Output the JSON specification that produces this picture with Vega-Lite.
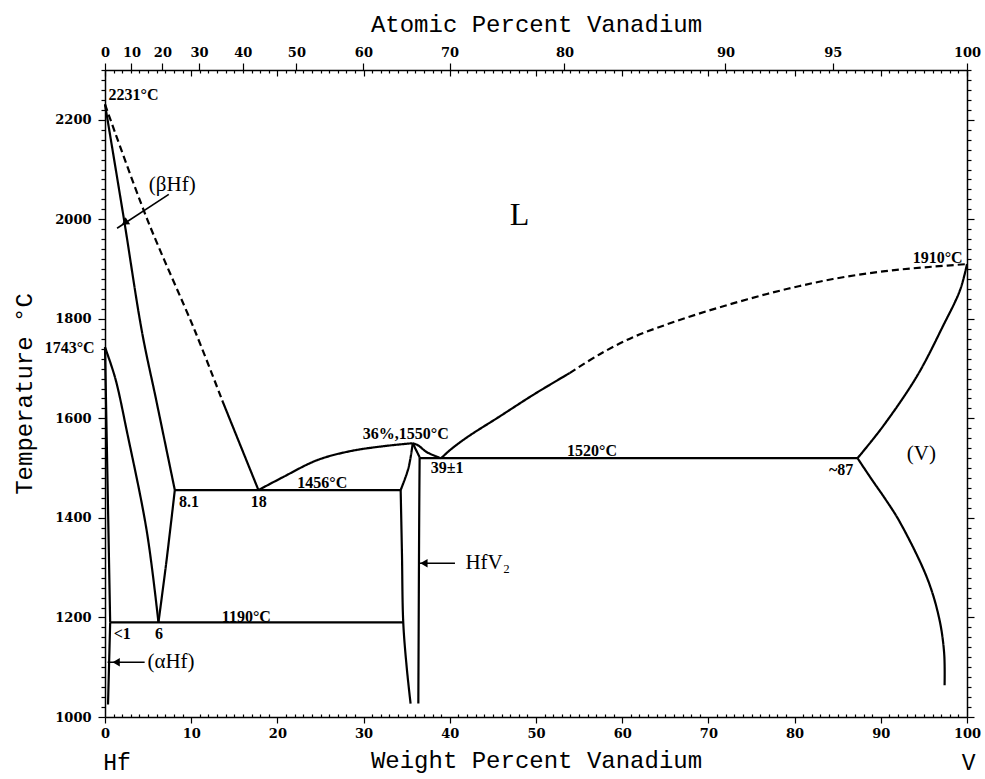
{
  "$schema": "https://vega.github.io/schema/vega-lite/v6.json",
  "width": 862,
  "height": 647,
  "autosize": {"type": "none"},
  "padding": {"left": 105, "top": 70, "right": 18, "bottom": 62},
  "background": "white",
  "config": {
    "view": {"stroke": null},
    "axis": {
      "grid": false, "domainColor": "black", "domainWidth": 1.5, "tickColor": "black", "tickWidth": 1.2,
      "labelColor": "black", "titleColor": "black", "labelFont": "DejaVu Serif", "labelFontSize": 13,
      "labelFontWeight": "bold", "titleFont": "Liberation Mono", "titleFontSize": 24, "titleFontWeight": "normal",
      "labelFlush": false, "labelOverlap": false, "labelBound": false
    }
  },
  "datasets": {
    "lines": [
      {"seg": "S1", "kind": "estimated", "i": 0, "wt": 0, "T": 2231},
      {"seg": "S1", "kind": "estimated", "i": 1, "wt": 4.9, "T": 2000},
      {"seg": "S1", "kind": "estimated", "i": 2, "wt": 10.5, "T": 1773},
      {"seg": "S1", "kind": "estimated", "i": 3, "wt": 13.6, "T": 1636},
      {"seg": "S2", "kind": "measured", "i": 0, "wt": 13.6, "T": 1636},
      {"seg": "S2", "kind": "measured", "i": 1, "wt": 17.8, "T": 1456},
      {"seg": "S3", "kind": "measured", "i": 0, "wt": 0, "T": 2231},
      {"seg": "S3", "kind": "measured", "i": 1, "wt": 2.2, "T": 2000},
      {"seg": "S3", "kind": "measured", "i": 2, "wt": 4.3, "T": 1773},
      {"seg": "S3", "kind": "measured", "i": 3, "wt": 5.95, "T": 1636},
      {"seg": "S3", "kind": "measured", "i": 4, "wt": 8.1, "T": 1456},
      {"seg": "S4", "kind": "measured", "i": 0, "wt": 8.1, "T": 1456},
      {"seg": "S4", "kind": "measured", "i": 1, "wt": 7.1, "T": 1309},
      {"seg": "S4", "kind": "measured", "i": 2, "wt": 6.2, "T": 1190},
      {"seg": "S5", "kind": "measured", "i": 0, "wt": 0, "T": 1743},
      {"seg": "S5", "kind": "measured", "i": 1, "wt": 1.2, "T": 1680},
      {"seg": "S5", "kind": "measured", "i": 2, "wt": 2.55, "T": 1573},
      {"seg": "S5", "kind": "measured", "i": 3, "wt": 4.85, "T": 1373},
      {"seg": "S5", "kind": "measured", "i": 4, "wt": 6.2, "T": 1190},
      {"seg": "S6a", "kind": "measured", "i": 0, "wt": 0, "T": 1743},
      {"seg": "S6a", "kind": "measured", "i": 1, "wt": 0.6, "T": 1190},
      {"seg": "S6b", "kind": "measured", "i": 0, "wt": 0.6, "T": 1190},
      {"seg": "S6b", "kind": "measured", "i": 1, "wt": 0.35, "T": 1025},
      {"seg": "S7", "kind": "measured", "i": 0, "wt": 0.6, "T": 1190},
      {"seg": "S7", "kind": "measured", "i": 1, "wt": 34.6, "T": 1190},
      {"seg": "S8", "kind": "measured", "i": 0, "wt": 8.1, "T": 1456},
      {"seg": "S8", "kind": "measured", "i": 1, "wt": 34.3, "T": 1456},
      {"seg": "S9", "kind": "measured", "i": 0, "wt": 17.8, "T": 1456},
      {"seg": "S9", "kind": "measured", "i": 1, "wt": 20.65, "T": 1482},
      {"seg": "S9", "kind": "measured", "i": 2, "wt": 24.6, "T": 1516},
      {"seg": "S9", "kind": "measured", "i": 3, "wt": 28.4, "T": 1534},
      {"seg": "S9", "kind": "measured", "i": 4, "wt": 32.25, "T": 1544},
      {"seg": "S9", "kind": "measured", "i": 5, "wt": 35.0, "T": 1549},
      {"seg": "S9", "kind": "measured", "i": 6, "wt": 35.7, "T": 1550},
      {"seg": "S10a", "kind": "measured", "i": 0, "wt": 35.7, "T": 1550},
      {"seg": "S10a", "kind": "measured", "i": 1, "wt": 35.2, "T": 1500},
      {"seg": "S10a", "kind": "measured", "i": 2, "wt": 34.3, "T": 1456},
      {"seg": "S10b", "kind": "measured", "i": 0, "wt": 34.3, "T": 1456},
      {"seg": "S10b", "kind": "measured", "i": 1, "wt": 34.45, "T": 1328},
      {"seg": "S10b", "kind": "measured", "i": 2, "wt": 34.6, "T": 1190},
      {"seg": "S10b", "kind": "measured", "i": 3, "wt": 35.0, "T": 1100},
      {"seg": "S10b", "kind": "measured", "i": 4, "wt": 35.45, "T": 1027},
      {"seg": "S11a", "kind": "measured", "i": 0, "wt": 35.7, "T": 1550},
      {"seg": "S11a", "kind": "measured", "i": 1, "wt": 36.5, "T": 1522},
      {"seg": "S11b", "kind": "measured", "i": 0, "wt": 36.5, "T": 1522},
      {"seg": "S11b", "kind": "measured", "i": 1, "wt": 36.45, "T": 1400},
      {"seg": "S11b", "kind": "measured", "i": 2, "wt": 36.35, "T": 1027},
      {"seg": "S12", "kind": "measured", "i": 0, "wt": 35.7, "T": 1550},
      {"seg": "S12", "kind": "measured", "i": 1, "wt": 36.3, "T": 1546},
      {"seg": "S12", "kind": "measured", "i": 2, "wt": 37.35, "T": 1532},
      {"seg": "S12", "kind": "measured", "i": 3, "wt": 39.0, "T": 1520},
      {"seg": "S13", "kind": "measured", "i": 0, "wt": 36.5, "T": 1520},
      {"seg": "S13", "kind": "measured", "i": 1, "wt": 87.3, "T": 1520},
      {"seg": "S14", "kind": "measured", "i": 0, "wt": 39.0, "T": 1520},
      {"seg": "S14", "kind": "measured", "i": 1, "wt": 40.0, "T": 1536},
      {"seg": "S14", "kind": "measured", "i": 2, "wt": 42.0, "T": 1562},
      {"seg": "S14", "kind": "measured", "i": 3, "wt": 45.8, "T": 1604},
      {"seg": "S14", "kind": "measured", "i": 4, "wt": 49.65, "T": 1647},
      {"seg": "S14", "kind": "measured", "i": 5, "wt": 53.9, "T": 1691},
      {"seg": "S15", "kind": "estimated", "i": 0, "wt": 53.9, "T": 1691},
      {"seg": "S15", "kind": "estimated", "i": 1, "wt": 57.4, "T": 1729},
      {"seg": "S15", "kind": "estimated", "i": 2, "wt": 61.25, "T": 1763},
      {"seg": "S15", "kind": "estimated", "i": 3, "wt": 65.2, "T": 1789},
      {"seg": "S15", "kind": "estimated", "i": 4, "wt": 69.0, "T": 1811},
      {"seg": "S15", "kind": "estimated", "i": 5, "wt": 72.85, "T": 1831},
      {"seg": "S15", "kind": "estimated", "i": 6, "wt": 76.8, "T": 1850},
      {"seg": "S15", "kind": "estimated", "i": 7, "wt": 80.6, "T": 1866},
      {"seg": "S15", "kind": "estimated", "i": 8, "wt": 84.45, "T": 1880},
      {"seg": "S15", "kind": "estimated", "i": 9, "wt": 88.4, "T": 1891},
      {"seg": "S15", "kind": "estimated", "i": 10, "wt": 92.2, "T": 1899},
      {"seg": "S15", "kind": "estimated", "i": 11, "wt": 96.1, "T": 1905},
      {"seg": "S15", "kind": "estimated", "i": 12, "wt": 100, "T": 1910},
      {"seg": "S16", "kind": "measured", "i": 0, "wt": 87.3, "T": 1520},
      {"seg": "S16", "kind": "measured", "i": 1, "wt": 90.25, "T": 1584},
      {"seg": "S16", "kind": "measured", "i": 2, "wt": 94.2, "T": 1685},
      {"seg": "S16", "kind": "measured", "i": 3, "wt": 97.2, "T": 1785},
      {"seg": "S16", "kind": "measured", "i": 4, "wt": 99.2, "T": 1858},
      {"seg": "S16", "kind": "measured", "i": 5, "wt": 100, "T": 1910},
      {"seg": "S17", "kind": "measured", "i": 0, "wt": 87.3, "T": 1520},
      {"seg": "S17", "kind": "measured", "i": 1, "wt": 89.0, "T": 1476},
      {"seg": "S17", "kind": "measured", "i": 2, "wt": 90.6, "T": 1436},
      {"seg": "S17", "kind": "measured", "i": 3, "wt": 92.2, "T": 1392},
      {"seg": "S17", "kind": "measured", "i": 4, "wt": 95.4, "T": 1278},
      {"seg": "S17", "kind": "measured", "i": 5, "wt": 96.8, "T": 1196},
      {"seg": "S17", "kind": "measured", "i": 6, "wt": 97.35, "T": 1128},
      {"seg": "S17", "kind": "measured", "i": 7, "wt": 97.4, "T": 1064}
    ],
    "leaders": [
      {"name": "beta", "i": 0, "wt": 7.4, "T": 2050},
      {"name": "beta", "i": 1, "wt": 1.4, "T": 1982},
      {"name": "alpha", "i": 0, "wt": 4.6, "T": 1110},
      {"name": "alpha", "i": 1, "wt": 0.3, "T": 1110},
      {"name": "hfv2", "i": 0, "wt": 40.6, "T": 1309},
      {"name": "hfv2", "i": 1, "wt": 36.4, "T": 1309}
    ],
    "heads": [
      {"name": "beta", "wt": 2.3, "T": 1993},
      {"name": "alpha", "wt": 1.3, "T": 1110},
      {"name": "hfv2", "wt": 37.0, "T": 1309}
    ],
    "small": [
      {"label": "2231°C", "wt": 3.3, "T": 2250},
      {"label": "1743°C", "wt": -4.1, "T": 1741},
      {"label": "8.1", "wt": 9.75, "T": 1431},
      {"label": "18", "wt": 17.85, "T": 1431},
      {"label": "1456°C", "wt": 25.2, "T": 1470},
      {"label": "36%,1550°C", "wt": 34.9, "T": 1568},
      {"label": "39±1", "wt": 39.7, "T": 1500},
      {"label": "1520°C", "wt": 56.5, "T": 1534},
      {"label": "~87", "wt": 85.4, "T": 1497},
      {"label": "1910°C", "wt": 96.6, "T": 1922},
      {"label": "1190°C", "wt": 16.4, "T": 1200},
      {"label": "<1", "wt": 2.0, "T": 1166},
      {"label": "6", "wt": 6.25, "T": 1166}
    ],
    "phases": [
      {"label": "(βHf)", "wt": 7.8, "T": 2068},
      {"label": "(αHf)", "wt": 7.66, "T": 1110},
      {"label": "(V)", "wt": 94.7, "T": 1529},
      {"label": "HfV₂", "wt": 44.4, "T": 1309}
    ],
    "big": [
      {"label": "L", "wt": 48.1, "T": 2008}
    ],
    "ends": [
      {"label": "Hf", "wt": 1.4, "T": 907},
      {"label": "V", "wt": 100.2, "T": 907}
    ]
  },
  "resolve": {"axis": {"x": "independent", "y": "independent"}},
  "layer": [
    {
      "data": {"name": "lines"},
      "mark": {"type": "line", "color": "black", "strokeWidth": 2.2, "interpolate": "catmull-rom"},
      "encoding": {
        "x": {"field": "wt", "type": "quantitative",
          "scale": {"domain": [0, 100], "nice": false, "zero": false},
          "axis": {"orient": "bottom",
            "values": [0,1,2,3,4,5,6,7,8,9,10,11,12,13,14,15,16,17,18,19,20,21,22,23,24,25,26,27,28,29,30,31,32,33,34,35,36,37,38,39,40,41,42,43,44,45,46,47,48,49,50,51,52,53,54,55,56,57,58,59,60,61,62,63,64,65,66,67,68,69,70,71,72,73,74,75,76,77,78,79,80,81,82,83,84,85,86,87,88,89,90,91,92,93,94,95,96,97,98,99,100],
            "format": "d",
            "labelExpr": "datum.value % 10 === 0 ? datum.label : ''",
            "tickSize": {"condition": {"test": "datum.value % 10 === 0", "value": 6}, "value": -3},
            "labelPadding": 4,
            "title": "Weight Percent Vanadium", "titlePadding": 8}},
        "y": {"field": "T", "type": "quantitative",
          "scale": {"domain": [1000, 2300], "nice": false, "zero": false},
          "axis": {"orient": "left",
            "values": [1000,1020,1040,1060,1080,1100,1120,1140,1160,1180,1200,1220,1240,1260,1280,1300,1320,1340,1360,1380,1400,1420,1440,1460,1480,1500,1520,1540,1560,1580,1600,1620,1640,1660,1680,1700,1720,1740,1760,1780,1800,1820,1840,1860,1880,1900,1920,1940,1960,1980,2000,2020,2040,2060,2080,2100,2120,2140,2160,2180,2200,2220,2240,2260,2280,2300],
            "format": "d",
            "labelExpr": "datum.value % 200 === 0 ? datum.label : ''",
            "tickSize": {"condition": {"test": "datum.value % 200 === 0", "value": 7}, "value": 4},
            "labelPadding": 7,
            "title": "Temperature °C", "titlePadding": 18}},
        "detail": {"field": "seg"},
        "order": {"field": "i", "type": "quantitative"},
        "strokeDash": {"field": "kind", "type": "nominal",
          "scale": {"domain": ["measured", "estimated"], "range": [[1, 0], [7, 4]]}, "legend": null}
      }
    },
    {
      "data": {"name": "leaders"},
      "mark": {"type": "line", "color": "black", "strokeWidth": 1.6},
      "encoding": {
        "x": {"field": "wt", "type": "quantitative",
          "scale": {"domain": [0, 100], "nice": false, "zero": false},
          "axis": {"orient": "top",
            "values": [0,1,2,3,4,5,6,7,8,9,10,11,12,13,14,15,16,17,18,19,20,21,22,23,24,25,26,27,28,29,30,31,32,33,34,35,36,37,38,39,40,41,42,43,44,45,46,47,48,49,50,51,52,53,54,55,56,57,58,59,60,61,62,63,64,65,66,67,68,69,70,71,72,73,74,75,76,77,78,79,80,81,82,83,84,85,86,87,88,89,90,91,92,93,94,95,96,97,98,99,100],
            "labels": false,
            "tickSize": {"condition": {"test": "datum.value % 10 === 0", "value": -6}, "value": -3},
            "title": null}},
        "y": {"field": "T", "type": "quantitative",
          "scale": {"domain": [1000, 2300], "nice": false, "zero": false},
          "axis": {"orient": "right",
            "values": [1000,1020,1040,1060,1080,1100,1120,1140,1160,1180,1200,1220,1240,1260,1280,1300,1320,1340,1360,1380,1400,1420,1440,1460,1480,1500,1520,1540,1560,1580,1600,1620,1640,1660,1680,1700,1720,1740,1760,1780,1800,1820,1840,1860,1880,1900,1920,1940,1960,1980,2000,2020,2040,2060,2080,2100,2120,2140,2160,2180,2200,2220,2240,2260,2280,2300],
            "labels": false,
            "tickSize": {"condition": {"test": "datum.value % 200 === 0", "value": 7}, "value": 4},
            "title": null}},
        "detail": {"field": "name"},
        "order": {"field": "i", "type": "quantitative"}
      }
    },
    {
      "data": {"name": "heads"},
      "transform": [{"filter": "datum.name === 'beta'"}],
      "mark": {"type": "point", "shape": "triangle-right", "angle": 147, "filled": true, "color": "black", "opacity": 1, "size": 70},
      "encoding": {
        "x": {"field": "wt", "type": "quantitative",
          "scale": {"domain": [0, 100], "nice": false, "zero": false},
          "axis": {"orient": "top",
            "values": [0, 3.0737, 6.6599, 10.8984, 15.9853, 22.2033, 29.9771, 39.9737, 53.3056, 71.977, 84.4295, 100],
            "labelExpr": "'' + round(350.382 * datum.value / (100 + 2.50382 * datum.value))",
            "tickSize": 7, "labelPadding": 4, "domain": false,
            "title": "Atomic Percent Vanadium", "titlePadding": 10}},
        "y": {"field": "T", "type": "quantitative",
          "scale": {"domain": [1000, 2300], "nice": false, "zero": false}, "axis": null}
      }
    },
    {
      "data": {"name": "heads"},
      "transform": [{"filter": "datum.name !== 'beta'"}],
      "mark": {"type": "point", "shape": "triangle-left", "filled": true, "color": "black", "opacity": 1, "size": 70},
      "encoding": {
        "x": {"field": "wt", "type": "quantitative", "scale": {"domain": [0, 100], "nice": false, "zero": false}, "axis": null},
        "y": {"field": "T", "type": "quantitative", "scale": {"domain": [1000, 2300], "nice": false, "zero": false}, "axis": null}
      }
    },
    {
      "data": {"name": "small"},
      "mark": {"type": "text", "font": "Liberation Serif", "fontWeight": "bold", "fontSize": 16, "color": "black", "align": "center", "baseline": "middle"},
      "encoding": {
        "x": {"field": "wt", "type": "quantitative", "scale": {"domain": [0, 100], "nice": false, "zero": false}, "axis": null},
        "y": {"field": "T", "type": "quantitative", "scale": {"domain": [1000, 2300], "nice": false, "zero": false}, "axis": null},
        "text": {"field": "label"}
      }
    },
    {
      "data": {"name": "phases"},
      "mark": {"type": "text", "font": "Liberation Serif", "fontSize": 21, "color": "black", "align": "center", "baseline": "middle"},
      "encoding": {
        "x": {"field": "wt", "type": "quantitative", "scale": {"domain": [0, 100], "nice": false, "zero": false}, "axis": null},
        "y": {"field": "T", "type": "quantitative", "scale": {"domain": [1000, 2300], "nice": false, "zero": false}, "axis": null},
        "text": {"field": "label"}
      }
    },
    {
      "data": {"name": "big"},
      "mark": {"type": "text", "font": "Liberation Serif", "fontSize": 32, "color": "black", "align": "center", "baseline": "middle"},
      "encoding": {
        "x": {"field": "wt", "type": "quantitative", "scale": {"domain": [0, 100], "nice": false, "zero": false}, "axis": null},
        "y": {"field": "T", "type": "quantitative", "scale": {"domain": [1000, 2300], "nice": false, "zero": false}, "axis": null},
        "text": {"field": "label"}
      }
    },
    {
      "data": {"name": "ends"},
      "mark": {"type": "text", "font": "Liberation Mono", "fontSize": 23, "color": "black", "align": "center", "baseline": "middle"},
      "encoding": {
        "x": {"field": "wt", "type": "quantitative", "scale": {"domain": [0, 100], "nice": false, "zero": false}, "axis": null},
        "y": {"field": "T", "type": "quantitative", "scale": {"domain": [1000, 2300], "nice": false, "zero": false}, "axis": null},
        "text": {"field": "label"}
      }
    }
  ]
}
